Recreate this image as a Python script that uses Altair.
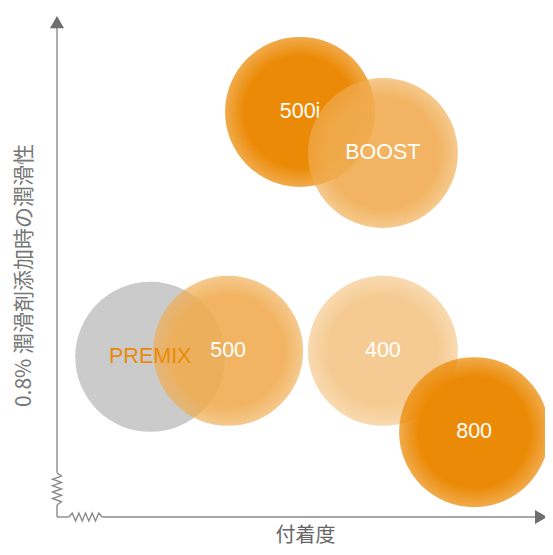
import altair as alt
import pandas as pd

# ---- data ----
names = ["500i", "BOOST", "PREMIX", "500", "400", "800"]
adhesion = [4.90, 6.57, 1.88, 3.45, 6.57, 8.41]      # 付着度 (x)
lubricity = [8.07, 7.25, 3.19, 3.31, 3.31, 1.69]     # 潤滑性 (y)
tone = ["dark0", "mid", "grey", "mid", "light", "dark1"]
depth = [0, 1, 1, 1, 1, 1]                           # label drawing group
label_color = ["white", "white", "#EB8A06", "white", "white", "white"]

x_title = "付着度"
y_title = "0.8% 潤滑剤添加時の潤滑性"

AX = "#8a8a8a"
TONES = {"dark": ((235, 138, 6), 1.0), "mid": ((240, 172, 80), 0.9),
         "light": ((245, 199, 138), 0.92)}

df = pd.DataFrame({"name": names, "x": adhesion, "y": lubricity,
                   "tone": tone, "z": depth, "tc": label_color})

# axis decoration (lines with arrows and zig-zag break marks), built in data units
dec_rows = []
dec_rows += [{"seg": "yaxis", "i": 0, "x": 0, "y": 0}, {"seg": "yaxis", "i": 1, "x": 0, "y": 0.24}]
dec_rows += [{"seg": "yaxis2", "i": 0, "x": 0, "y": 0.88}, {"seg": "yaxis2", "i": 1, "x": 0, "y": 9.8}]
dec_rows += [{"seg": "xaxis", "i": 0, "x": 0, "y": 0}, {"seg": "xaxis", "i": 1, "x": 0.24, "y": 0}]
dec_rows += [{"seg": "xaxis2", "i": 0, "x": 0.91, "y": 0}, {"seg": "xaxis2", "i": 1, "x": 9.7, "y": 0}]
n = 10
for k in range(n + 1):
    t = k / n
    off = 0 if k in (0, n) else (0.09 if k % 2 else -0.09)
    dec_rows.append({"seg": "yzig", "i": k, "x": off, "y": 0.24 + t * (0.88 - 0.24)})
    offy = 0 if k in (0, n) else (0.08 if k % 2 else -0.08)
    dec_rows.append({"seg": "xzig", "i": k, "x": 0.24 + t * (0.91 - 0.24), "y": offy})
dec = pd.DataFrame(dec_rows)
arrows = pd.DataFrame({"x": [0, 9.76], "y": [9.86, 0], "shape": ["triangle-up", "triangle-right"]})

xs = alt.Scale(domain=[0, 10], nice=False, zero=False)
ys = alt.Scale(domain=[0, 10], nice=False, zero=False)
xaxis = alt.Axis(title=x_title, domain=False, ticks=False, labels=False, grid=False,
                 titleFont="Noto Sans CJK JP", titleFontSize=20, titleFontWeight="normal",
                 titleColor="#666666", titlePadding=8)
yaxis = alt.Axis(title=y_title, domain=False, ticks=False, labels=False, grid=False,
                 titleFont="Noto Sans CJK JP", titleFontSize=21, titleFontWeight="normal",
                 titleColor="#777777", titlePadding=23, titleY=260)
X = alt.X("x:Q", scale=xs, axis=xaxis)
Y = alt.Y("y:Q", scale=ys, axis=yaxis)


def grad(rgb):
    r, g, b = rgb
    solid = f"rgba({r},{g},{b},1)"
    return alt.RadialGradient(
        gradient="radial", x1=0.5, y1=0.5, r1=0, x2=0.5, y2=0.5, r2=0.5,
        stops=[alt.GradientStop(offset=0, color=solid),
               alt.GradientStop(offset=0.74, color=solid),
               alt.GradientStop(offset=1, color=f"rgba({r},{g},{b},0.72)")])


base = alt.Chart(df)

lines = alt.Chart(dec).mark_line(stroke=AX, strokeWidth=1.4).encode(
    x=X, y=Y, detail="seg:N", order="i:Q")
arrow = alt.Chart(arrows).mark_point(filled=True, size=200, color="#6e6e6e", opacity=1).encode(
    x=X, y=Y, shape=alt.Shape("shape:N", scale=None))

grey = base.transform_filter("datum.tone == 'grey'").mark_circle(
    size=22500, color="#CBCBCB", opacity=1).encode(x=X, y=Y)


def bubbles(t, key):
    rgb, op = TONES[key]
    return base.transform_filter(f"datum.tone == '{t}'").mark_circle(
        size=22500, fill=grad(rgb), strokeWidth=0, opacity=op).encode(x=X, y=Y)


def labels(z):
    return base.transform_filter(f"datum.z == {z}").mark_text(
        font="Liberation Sans", fontSize=21.5).encode(
        x=X, y=Y, text="name:N", color=alt.Color("tc:N", scale=None))


chart = alt.layer(
    lines, arrow, grey,
    bubbles("dark0", "dark"), labels(0),
    bubbles("mid", "mid"), bubbles("light", "light"), bubbles("dark1", "dark"),
    labels(1),
).properties(
    width=496, height=502, autosize="none",
    padding={"left": 49, "top": 7, "right": -8, "bottom": 30},
).configure_view(stroke=None)

chart.save("out.html", embed_options={"renderer": "svg", "actions": False})
